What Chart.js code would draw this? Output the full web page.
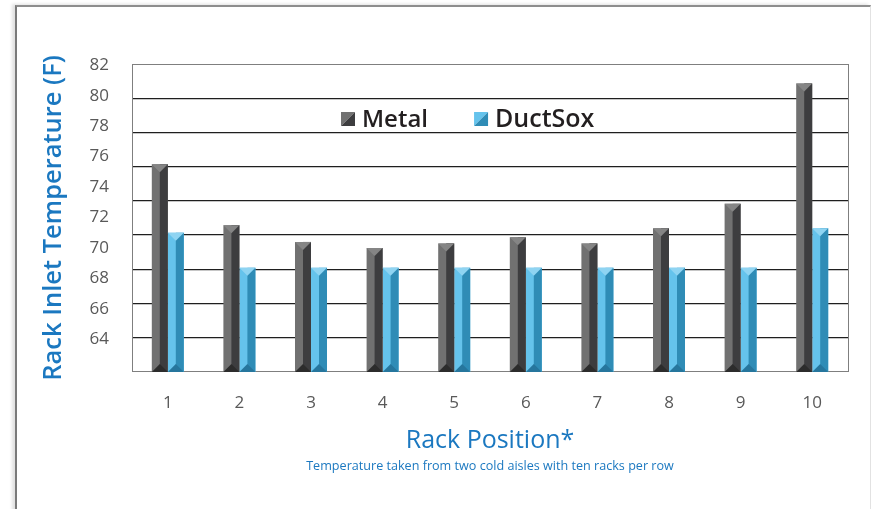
<!DOCTYPE html>
<html>
<head>
<meta charset="utf-8">
<script src="https://cdn.jsdelivr.net/npm/chart.js@4.4.1/dist/chart.umd.min.js"></script>
<style>
    html, body { margin: 0; padding: 0; background: #fff; }
    body { width: 871px; height: 509px; position: relative; overflow: hidden; }
    #cadre {
        position: absolute; left: 15px; top: 5px; width: 853px; height: 530px;
        border-left: 2px solid #7a7a7a; border-top: 2px solid #8e8e8e; border-right: 1px solid #e2e2e2;
        box-shadow: -3px -1px 3px rgba(0, 0, 0, 0.12);
    }
    #graphique { position: absolute; left: 0; top: 0; }
</style>
</head>
<body>
<div id="cadre"></div>
<canvas id="graphique" width="871" height="509"></canvas>
<script>
const positions = ["1", "2", "3", "4", "5", "6", "7", "8", "9", "10"]
const metal = [75.5, 71.5, 70.4, 70.0, 70.3, 70.7, 70.3, 71.3, 72.9, 80.8]
const ductsox = [71.0, 68.7, 68.7, 68.7, 68.7, 68.7, 68.7, 68.7, 68.7, 71.3]
const yTicks = [64, 66, 68, 70, 72, 74, 76, 78, 80, 82]
const yMin = 61.87
const yMax = 82.08

const bleu = "#1b78c0"
const gris = "#7f7f7f"

Chart.defaults.font.family = "'Open Sans', sans-serif"

// Relief des barres : moitié droite sombre, biseau en haut et en bas
const relief = {
    id: "relief",
    afterDatasetsDraw(chart) {
        const ctx = chart.ctx
        const fond = chart.chartArea.bottom
        chart.data.datasets.forEach((ds, i) => {
            const t = ds.relief
            chart.getDatasetMeta(i).data.forEach(bar => {
                const { x, y, base, width } = bar.getProps(["x", "y", "base", "width"], true)
                const b = Math.min(base, fond)
                const g = x - width / 2
                const d = x + width / 2
                const p = width / 2
                ctx.save()
                ctx.fillStyle = t.droite
                ctx.fillRect(x, y, width / 2, b - y)
                ctx.fillStyle = t.haut
                ctx.beginPath()
                ctx.moveTo(g, y); ctx.lineTo(d, y); ctx.lineTo(x, y + p)
                ctx.closePath()
                ctx.fill()
                ctx.fillStyle = t.bas
                ctx.beginPath()
                ctx.moveTo(g, b); ctx.lineTo(d, b); ctx.lineTo(x, b - p)
                ctx.closePath()
                ctx.fill()
                ctx.restore()
            })
        })
    }
}

// Légende dessinée dans la zone du graphique
const legende = {
    id: "legende",
    afterDraw(chart) {
        const { ctx, chartArea } = chart
        let x = chartArea.left + 209
        const y = chartArea.top + 56
        ctx.save()
        ctx.textBaseline = "middle"
        chart.data.datasets.forEach(ds => {
            const t = ds.relief
            const c = 14
            const top = y - 8
            ctx.fillStyle = ds.backgroundColor
            ctx.beginPath()
            ctx.moveTo(x, top); ctx.lineTo(x + c, top); ctx.lineTo(x, top + c)
            ctx.closePath()
            ctx.fill()
            ctx.fillStyle = t.droite
            ctx.beginPath()
            ctx.moveTo(x + c, top); ctx.lineTo(x + c, top + c); ctx.lineTo(x, top + c)
            ctx.closePath()
            ctx.fill()
            ctx.fillStyle = "#231f20"
            ctx.font = "600 " + ds.tailleLegende + "px 'Open Sans'"
            ctx.fillText(ds.label, x + 21, y)
            x += 21 + ctx.measureText(ds.label).width + 46
        })
        ctx.restore()
    }
}

const data = {
    labels: positions,
    datasets: [{
        label: "Metal",
        data: metal,
        backgroundColor: "#717171",
        relief: { droite: "#3d3d3f", haut: "#858585", bas: "#2c2c2c" },
        tailleLegende: 24,
        borderWidth: 0,
        barPercentage: 1,
        categoryPercentage: 0.447
    }, {
        label: "DuctSox",
        data: ductsox,
        backgroundColor: "#65c3ec",
        relief: { droite: "#2f8cb6", haut: "#8fd4f2", bas: "#26769d" },
        tailleLegende: 25,
        borderWidth: 0,
        barPercentage: 1,
        categoryPercentage: 0.447
    }]
}

const config = {
    type: "bar",
    data: data,
    plugins: [relief, legende],
    options: {
        responsive: false,
        animation: false,
        layout: { padding: { left: 20, top: 64, right: 23, bottom: 35 } },
        plugins: {
            legend: { display: false },
            tooltip: { enabled: false },
            subtitle: {
                display: true,
                position: "bottom",
                fullSize: false,
                text: "Temperature taken from two cold aisles with ten racks per row",
                color: bleu,
                font: { size: 12.6 },
                padding: { top: 3, bottom: 0 }
            }
        },
        scales: {
            x: {
                grid: { display: false },
                border: { display: true, color: gris, width: 1 },
                ticks: { color: "#595959", font: { size: 17 }, padding: 13 },
                afterFit: s => { s.height = 84 },
                title: {
                    display: true,
                    text: "Rack Position*",
                    color: bleu,
                    font: { size: 25 },
                    padding: { top: 0, bottom: 0 }
                }
            },
            y: {
                min: yMin,
                max: yMax,
                afterBuildTicks: s => { s.ticks = yTicks.map(v => ({ value: v })) },
                afterFit: s => { s.width = 112 },
                grid: { display: false },
                border: { display: true, color: gris, width: 1 },
                ticks: { color: "#595959", font: { size: 17 }, padding: 15 },
                title: {
                    display: true,
                    text: "Rack Inlet Temperature (F)",
                    color: bleu,
                    font: { size: 25.5, weight: 600 },
                    padding: { top: 18, bottom: 0 }
                }
            },
            grille: {
                position: "right",
                min: 0,
                max: 9,
                afterFit: s => { s.width = 0 },
                ticks: { display: false, stepSize: 1 },
                grid: {
                    drawTicks: false,
                    color: c => (c.tick.value === 9 || c.tick.value === 0) ? gris : "#1f1f1f",
                    lineWidth: c => (c.tick.value === 9 || c.tick.value === 0) ? 1 : 1.3
                },
                border: { display: true, color: gris, width: 1 }
            }
        }
    }
}

new Chart(document.querySelector("#graphique"), config)
</script>
</body>
</html>
